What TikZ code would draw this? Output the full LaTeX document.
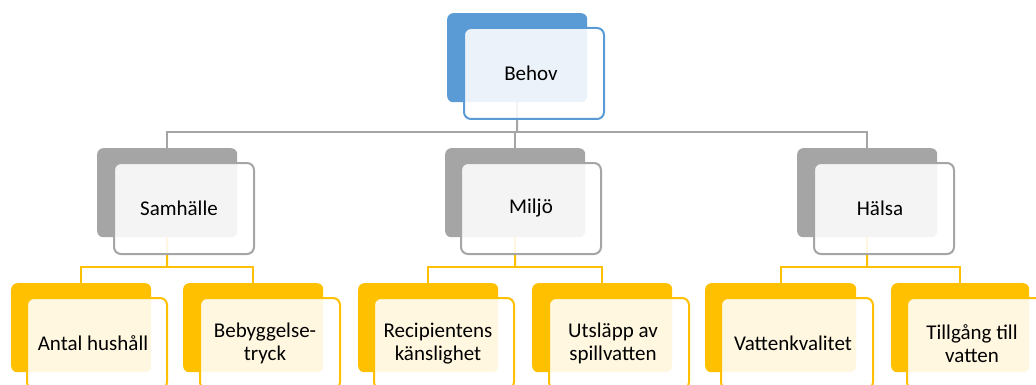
\documentclass[tikz,border=0pt]{standalone}
\usepackage{fontspec}
\setmainfont{Carlito}
\usepackage{xcolor}
\usetikzlibrary{backgrounds}
\definecolor{accblue}{HTML}{5B9BD5}
\definecolor{accgray}{HTML}{A5A5A5}
\definecolor{accgold}{HTML}{FFC000}

\begin{document}
\begin{tikzpicture}[x=1pt,y=-1pt,
  back/.style={rounded corners=6pt,inner sep=0pt,anchor=north west,
    minimum width=140pt,minimum height=89pt},
  front/.style={line width=2pt,rounded corners=7pt,inner sep=0pt,anchor=north west,
    fill=white,fill opacity=0.88,minimum width=140pt,minimum height=91pt},
  txt/.style={font=\fontsize{21}{23}\selectfont,align=center,inner sep=0pt},
  gline/.style={draw=accgray,line width=2pt},
  oline/.style={draw=accgold,line width=2pt}]
\useasboundingbox (0,0) rectangle (1036,385);
% top
\node[back,fill=accblue] (b1) at (447,13) {};
\node[front,draw=accblue] (f1) at (463,27) {};
\node[txt] (t1) at ([xshift=-3pt]f1.center) {Behov};
% middle row
\node[back,fill=accgray] (b2) at (97,148) {};
\node[front,draw=accgray] (f2) at (113,162) {};
\node[txt] (t2) at ([xshift=-5pt]f2.center) {Samhälle};
\node[back,fill=accgray] (b3) at (445,148) {};
\node[front,draw=accgray] (f3) at (460,162) {};
\node[txt] (t3) at (f3.center) {Miljö};
\node[back,fill=accgray] (b4) at (797,148) {};
\node[front,draw=accgray] (f4) at (813,162) {};
\node[txt] (t4) at ([xshift=-4pt]f4.center) {Hälsa};
% bottom row
\node[back,fill=accgold] (b5) at (11,283) {};
\node[front,draw=accgold] (f5) at (26,297) {};
\node[txt] (t5) at ([xshift=-4pt]f5.center) {Antal hushåll};
\node[back,fill=accgold] (b6) at (183,283) {};
\node[front,draw=accgold] (f6) at (199,297) {};
\node[txt] (t6) at ([xshift=-5pt]f6.center) {Bebyggelse-\\tryck};
\node[back,fill=accgold] (b7) at (358,283) {};
\node[front,draw=accgold] (f7) at (373,297) {};
\node[txt] (t7) at ([xshift=-6pt]f7.center) {Recipientens\\känslighet};
\node[back,fill=accgold] (b8) at (532,283) {};
\node[front,draw=accgold] (f8) at (548,297) {};
\node[txt] (t8) at ([xshift=-6pt]f8.center) {Utsläpp av\\spillvatten};
\node[back,fill=accgold,minimum width=151pt] (b9) at (705,283) {};
\node[front,draw=accgold,minimum width=152pt] (f9) at (720,297) {};
\node[txt] (t9) at ([xshift=-4pt]f9.center) {Vattenkvalitet};
\node[back,fill=accgold,minimum width=138pt] (b10) at (891,283) {};
\node[front,draw=accgold] (f10) at (906,297) {};
\node[txt] (t10) at ([xshift=-5pt]f10.center) {Tillgång till\\vatten};
% connectors
\coordinate (bus1) at (517,132);
\coordinate (bus2) at (167,267);
\coordinate (bus3) at (515,267);
\coordinate (bus4) at (867,267);
\begin{scope}[on background layer]
\draw[gline] (b1.south) -- (bus1);
\draw[gline] (b2.north) |- (bus1) -| (b4.north);
\draw[gline] (b3.north) -- (b3.north |- bus1);
\draw[oline] (b2.south) -- (bus2);
\draw[oline] (b5.north) |- (bus2) -| (b6.north);
\draw[oline] (b3.south) -- (bus3);
\draw[oline] (b7.north) |- (bus3) -| (b8.north);
\draw[oline] (b4.south) -- (bus4);
\draw[oline] (b9.north) |- (bus4) -| (b10.north);
\end{scope}
\end{tikzpicture}
\end{document}
